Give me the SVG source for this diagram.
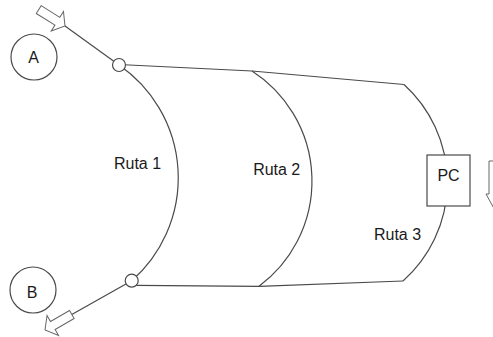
<svg xmlns="http://www.w3.org/2000/svg" width="493" height="337" viewBox="0 0 493 337">
<style>
.ln{fill:none;stroke:#4a4a4a;stroke-width:1.2}
.nd{fill:#fff;stroke:#4a4a4a;stroke-width:1.2}
.ar{fill:#fff;stroke:#666;stroke-width:1}
.tx{font-family:"Liberation Sans",Arial,sans-serif;font-size:16px;fill:#1a1a1a;text-anchor:middle}
</style>
<defs>
<polygon id="blk" points="-31,-4.6 -9,-4.6 -9,-11.5 0,0 -9,11.5 -9,4.6 -31,4.6"/>
</defs>
<g id="connectors">
<path class="ln" d="M65 26 L119 65"/>
<path class="ln" d="M131.7 280.7 L71.8 314.5"/>
<path class="ln" d="M119 64.5 L252 71 L404 84.5"/>
<path class="ln" d="M136 285.3 L259 286.3 L403 281"/>
<path class="ln" d="M119 65 A137 137 0 0 1 131.7 280.7"/>
<path class="ln" d="M252 71 A131 131 0 0 1 259 286.3"/>
<path class="ln" d="M404 84.5 A132 132 0 0 1 403 281"/>
</g>
<g id="arrowA"><use href="#blk" class="ar" transform="translate(65,26) rotate(32)"/></g>
<g id="arrowB"><use href="#blk" class="ar" transform="translate(45,330) rotate(150)"/></g>
<g id="arrowRight"><polygon class="ar" points="489,161 505,161 505,194 508,194 497,214 486,194 489,194"/></g>
<g id="nodeA"><circle class="nd" cx="34" cy="57" r="23"/><text class="tx" x="33.5" y="63">A</text></g>
<g id="nodeB"><circle class="nd" cx="33" cy="290" r="23"/><text class="tx" x="32" y="297.5">B</text></g>
<g id="junctionTop"><circle class="nd" cx="119" cy="65" r="6.5"/></g>
<g id="junctionBottom"><circle class="nd" cx="131.7" cy="280.7" r="6.5"/></g>
<g id="nodePC"><rect class="nd" x="427" y="155" width="43" height="51"/><text class="tx" x="448.5" y="181">PC</text></g>
<g id="labels">
<text class="tx" x="137.5" y="168.5">Ruta 1</text>
<text class="tx" x="276.7" y="175">Ruta 2</text>
<text class="tx" x="397.5" y="239.5">Ruta 3</text>
</g>
</svg>
